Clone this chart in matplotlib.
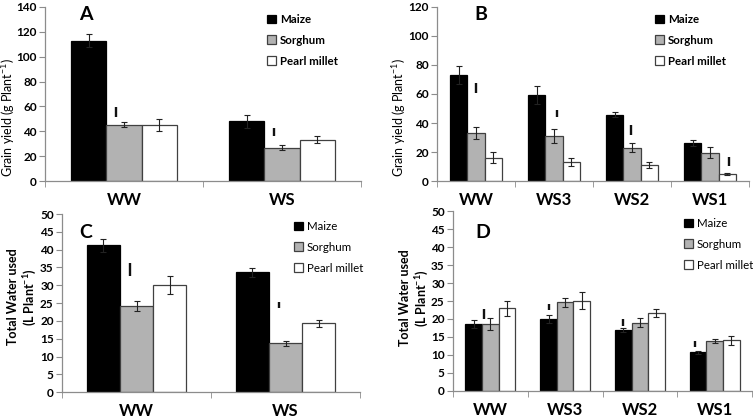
import matplotlib
matplotlib.use("Agg")
import matplotlib.pyplot as plt
from matplotlib.patches import Patch
import numpy as np

plt.rcParams['font.family'] = ['Lato', 'DejaVu Sans']
plt.rcParams['mathtext.default'] = 'regular'

series = ["Maize", "Sorghum", "Pearl millet"]

# Panel A: grain yield, 2 treatments
cats_A = ["WW", "WS"]
maize_A = [112.6, 48.1]
sorghum_A = [45.5, 27.0]
pearl_A = [45.5, 33.4]
maize_A_err = [5.3, 5.0]
sorghum_A_err = [2.3, 2.0]
pearl_A_err = [4.8, 2.7]
lsd_A_mid = [55.3, 39.5]
lsd_A_len = [8.0, 6.0]
lsd_A_pos = [0.78, 0.77]

# Panel B: grain yield, 4 treatments
cats_B = ["WW", "WS3", "WS2", "WS1"]
maize_B = [73.0, 59.3, 45.8, 26.1]
sorghum_B = [33.4, 31.4, 23.1, 19.7]
pearl_B = [16.3, 13.3, 11.2, 5.0]
maize_B_err = [6.4, 6.0, 1.8, 2.0]
sorghum_B_err = [4.1, 4.8, 3.2, 3.7]
pearl_B_err = [3.7, 2.5, 1.9, 0.5]
lsd_B_mid = [64.1, 46.7, 35.3, 13.9]
lsd_B_len = [6.4, 4.6, 6.9, 6.2]
lsd_B_pos = [1.0, 1.15, 0.95, 2.07]

# Panel C: total water used, 2 treatments
cats_C = ["WW", "WS"]
maize_C = [41.2, 33.6]
sorghum_C = [24.1, 13.7]
pearl_C = [30.1, 19.3]
maize_C_err = [1.9, 1.3]
sorghum_C_err = [1.4, 0.8]
pearl_C_err = [2.4, 1.1]
lsd_C_mid = [34.4, 24.5]
lsd_C_len = [3.6, 1.8]
lsd_C_pos = [0.81, 0.81]

# Panel D: total water used, 4 treatments
cats_D = ["WW", "WS3", "WS2", "WS1"]
maize_D = [18.7, 20.0, 16.9, 10.7]
sorghum_D = [18.5, 24.6, 19.0, 13.8]
pearl_D = [23.0, 25.1, 21.6, 14.0]
maize_D_err = [1.1, 1.1, 0.5, 0.35]
sorghum_D_err = [1.7, 1.3, 1.2, 0.6]
pearl_D_err = [2.1, 2.3, 1.1, 1.3]
lsd_D_mid = [21.4, 23.3, 19.0, 13.0]
lsd_D_len = [2.8, 1.8, 1.9, 1.6]
lsd_D_pos = [0.6, 0.05, 0.0, -0.2]

fills = ["#000000", "#b2b2b2", "#ffffff"]
edges = ["#000000", "#404040", "#404040"]
spine_col = "#8c8c8c"

W, H = 753, 420
fig = plt.figure(figsize=(W / 100, H / 100), dpi=100)


def px_axes(l, r, b, t):
    return fig.add_axes([l / W, 1 - b / H, (r - l) / W, (b - t) / H])


def panel(ax, cats, vals, errs, lsd_mid, lsd_len, lsd_pos, ymax, ystep,
          ylabel, bold_label, ylab_xy, letter, letter_xy, leg_xy):
    n = len(cats)
    x = np.arange(n)
    w = 0.667 / 3
    for j in range(3):
        ax.bar(x + (j - 1) * w, vals[j], width=w, color=fills[j],
               edgecolor=edges[j], linewidth=0.9, zorder=2)
        ax.errorbar(x + (j - 1) * w, vals[j], yerr=errs[j], fmt='none',
                    ecolor='#222222', elinewidth=0.8, capsize=2.2,
                    capthick=0.8, zorder=3)
    lx = x + (np.array(lsd_pos) - 1) * w
    mid = np.array(lsd_mid)
    ln = np.array(lsd_len)
    ax.vlines(lx, mid - ln / 2, mid + ln / 2, colors='#111111',
              linewidth=1.7, zorder=4)
    ax.set_xlim(-0.5, n - 0.5)
    ax.set_ylim(0, ymax)
    ax.set_yticks(np.arange(0, ymax + 0.01, ystep))
    ax.set_xticks(x)
    ax.set_xticklabels(cats, fontsize=12, fontweight='bold')
    ax.set_xticks(np.arange(-0.5, n, 1.0), minor=True)
    ax.tick_params(axis='x', which='major', length=0, pad=8)
    ax.tick_params(axis='x', which='minor', length=4, color=spine_col,
                   direction='out')
    ax.tick_params(axis='y', length=4, color=spine_col, direction='out',
                   labelsize=8.5, pad=2)
    for lab in ax.get_yticklabels():
        lab.set_fontweight('bold')
    for s in ['top', 'right']:
        ax.spines[s].set_visible(False)
    for s in ['left', 'bottom']:
        ax.spines[s].set_color(spine_col)
        ax.spines[s].set_linewidth(0.9)
    ax.set_ylabel(ylabel, fontsize=9,
                  fontweight='bold' if bold_label else 'normal',
                  linespacing=1.25)
    # ylab_xy = (right edge x, center y) in figure pixels
    bb = ax.get_position()
    fx = (ylab_xy[0] / W - bb.x0) / bb.width
    fy = ((1 - ylab_xy[1] / H) - bb.y0) / bb.height
    ax.yaxis.set_label_coords(fx, fy)
    fig.text(letter_xy[0] / W, 1 - letter_xy[1] / H, letter, fontsize=14,
             fontweight='bold', ha='center', va='center')
    handles = [Patch(facecolor=fills[j], edgecolor=edges[j], linewidth=0.9)
               for j in range(3)]
    ax.legend(handles, series, loc='upper left',
              bbox_to_anchor=(leg_xy[0] / W, 1 - leg_xy[1] / H),
              bbox_transform=fig.transFigure, frameon=False,
              handlelength=0.8, handleheight=0.8, handletextpad=0.3,
              labelspacing=0.85, borderpad=0, borderaxespad=0,
              prop={'weight': 'normal' if bold_label else 'bold',
                    'size': 8.3})


axA = px_axes(45, 361, 181.3, 6.7)
panel(axA, cats_A, [maize_A, sorghum_A, pearl_A],
      [maize_A_err, sorghum_A_err, pearl_A_err],
      lsd_A_mid, lsd_A_len, lsd_A_pos, 140, 20,
      "Grain yield (g Plant$^{-1}$)", False, (17, 117.5), "A", (86, 15),
      (267, 14))

axB = px_axes(437, 749, 181.3, 6.7)
panel(axB, cats_B, [maize_B, sorghum_B, pearl_B],
      [maize_B_err, sorghum_B_err, pearl_B_err],
      lsd_B_mid, lsd_B_len, lsd_B_pos, 120, 20,
      "Grain yield (g Plant$^{-1}$)", False, (408, 117.5), "B", (481, 15),
      (655, 14))

axC = px_axes(62, 360, 392.3, 214)
panel(axC, cats_C, [maize_C, sorghum_C, pearl_C],
      [maize_C_err, sorghum_C_err, pearl_C_err],
      lsd_C_mid, lsd_C_len, lsd_C_pos, 50, 5,
      "Total Water used\n(L Plant$^{-1}$)", True, (39, 297), "C", (86, 233),
      (294, 221))

axD = px_axes(453, 752, 390.7, 211.3)
panel(axD, cats_D, [maize_D, sorghum_D, pearl_D],
      [maize_D_err, sorghum_D_err, pearl_D_err],
      lsd_D_mid, lsd_D_len, lsd_D_pos, 50, 5,
      "Total Water used\n(L Plant$^{-1}$)", True, (431, 298), "D", (483, 233),
      (684, 218))

fig.savefig("out.png", dpi=100)
